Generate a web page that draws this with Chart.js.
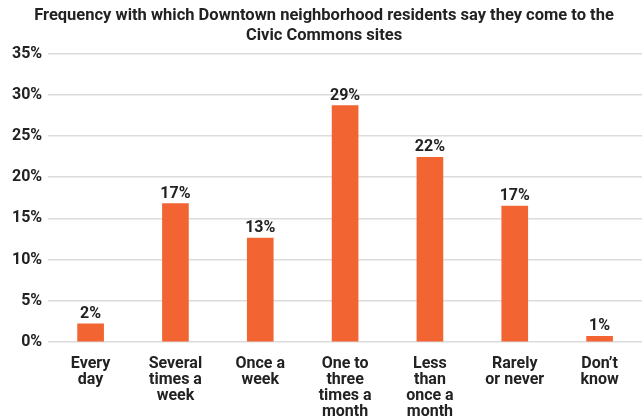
<!DOCTYPE html>
<html>
<head>
<meta charset="utf-8">
<script src="https://cdn.jsdelivr.net/npm/chart.js@4"></script>
<style>
  html, body { margin: 0; padding: 0; background: #fff; }
  .wrap { width: 644px; height: 419px; }
</style>
</head>
<body>
<div class="wrap"><canvas id="freq"></canvas></div>
<script>
const categories = [
  ["Every", "day"],
  ["Several", "times a", "week"],
  ["Once a", "week"],
  ["One to", "three", "times a", "month"],
  ["Less", "than", "once a", "month"],
  ["Rarely", "or never"],
  ["Don\u2019t", "know"],
];
const shares = [2.2, 16.8, 12.6, 28.7, 22.4, 16.5, 0.7];
const yTicks = [0, 5, 10, 15, 20, 25, 30, 35];

const ink = "#222";
const fontFamily = "Roboto, 'Liberation Sans', sans-serif";

// value labels drawn on top of each bar
const barLabels = {
  id: "barLabels",
  afterDatasetsDraw(chart) {
    const { ctx } = chart;
    ctx.save();
    ctx.font = `bold 16px ${fontFamily}`;
    ctx.fillStyle = ink;
    ctx.textAlign = "center";
    ctx.textBaseline = "bottom";
    chart.getDatasetMeta(0).data.forEach((bar, i) => {
      ctx.fillText(Math.round(shares[i]) + "%", bar.x, bar.y - 2);
    });
    ctx.restore();
  },
};

new Chart(document.getElementById("freq"), {
  type: "bar",
  data: {
    labels: categories,
    datasets: [
      {
        data: shares,
        backgroundColor: "#F26533",
        barThickness: 26,
      },
    ],
  },
  plugins: [barLabels],
  options: {
    responsive: true,
    maintainAspectRatio: false,
    animation: false,
    layout: { padding: { left: 6, right: 2, top: 0, bottom: 0 } },
    scales: {
      y: {
        min: 0,
        max: 35,
        afterBuildTicks: (axis) => {
          axis.ticks = yTicks.map((v) => ({ value: v }));
        },
        border: { display: false },
        grid: { color: "#dcdcdc", lineWidth: 1.5, drawTicks: false },
        ticks: {
          color: ink,
          padding: 6,
          font: { family: fontFamily, size: 16, weight: "bold" },
          callback: (v) => v + "%",
        },
      },
      x: {
        // labels run off the bottom edge, keep the plot height fixed
        afterFit: (axis) => {
          axis.height = 77;
        },
        border: { display: false },
        grid: { display: false },
        ticks: {
          color: ink,
          padding: 6,
          maxRotation: 0,
          autoSkip: false,
          font: { family: fontFamily, size: 16, weight: "bold", lineHeight: 1.0 },
        },
      },
    },
    plugins: {
      legend: { display: false },
      tooltip: { enabled: false },
      title: {
        display: true,
        text: [
          "Frequency with which Downtown neighborhood residents say they come to the",
          "Civic Commons sites",
        ],
        color: ink,
        font: { family: fontFamily, size: 16.5, weight: "bold", lineHeight: 1.2 },
        padding: { top: 6, bottom: 8 },
      },
    },
  },
});
</script>
</body>
</html>
